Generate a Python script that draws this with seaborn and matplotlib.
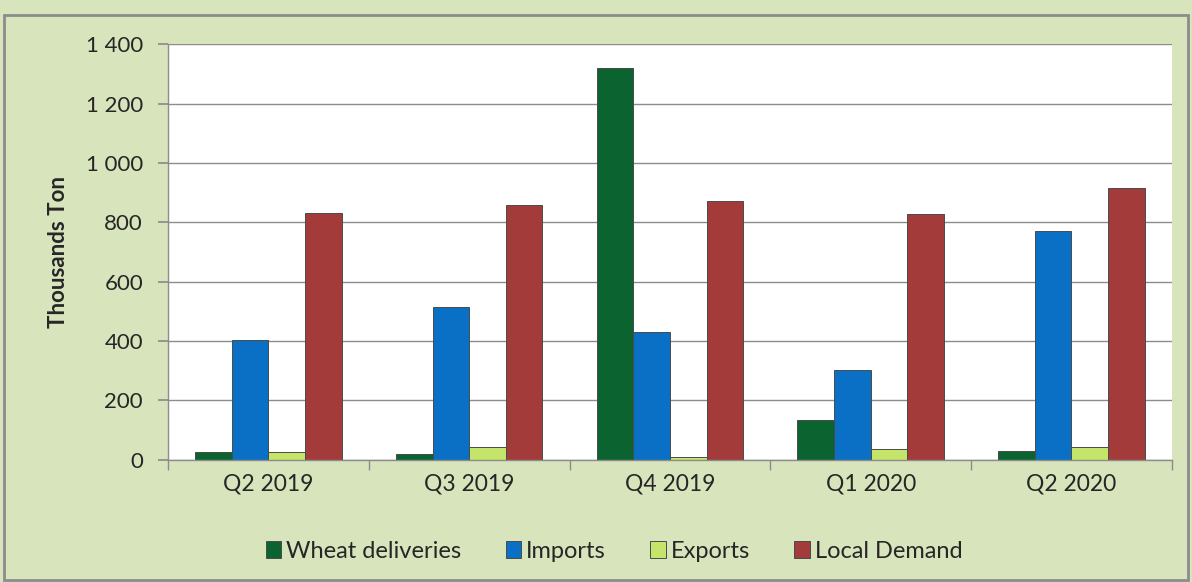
import matplotlib
matplotlib.use("Agg")
import matplotlib.pyplot as plt
import seaborn as sns
import pandas as pd
from matplotlib.ticker import FuncFormatter, FixedLocator
from matplotlib.patches import Rectangle

quarters = ["Q2 2019", "Q3 2019", "Q4 2019", "Q1 2020", "Q2 2020"]
series = ["Wheat deliveries", "Imports", "Exports", "Local Demand"]
wheat = [25, 20, 1320, 135, 30]
imports = [405, 515, 432, 302, 770]
exports = [25, 42, 8, 35, 42]
local_demand = [832, 858, 872, 828, 915]
colors = ["#0B6330", "#0A70C6", "#C4E46A", "#A33B3B"]

rows = []
for name, vals in zip(series, [wheat, imports, exports, local_demand]):
    for q, v in zip(quarters, vals):
        rows.append({"Quarter": q, "Series": name, "Value": v})
df = pd.DataFrame(rows)

sns.set_theme(style="white")
plt.rcParams['font.family'] = ['Lato', 'DejaVu Sans']

bg = "#D8E4BC"
fig = plt.figure(figsize=(11.92, 5.82), dpi=100, facecolor=bg)
fig.patches.append(Rectangle((0.003, 0.003), 0.994, 0.972, transform=fig.transFigure,
                             fill=False, edgecolor="#8C8C8C", linewidth=2))
ax = fig.add_axes([0.141, 0.210, 0.842, 0.714])
ax.set_facecolor("white")

sns.barplot(data=df, x="Quarter", y="Value", hue="Series", order=quarters,
            hue_order=series, palette=colors, saturation=1, width=0.73, gap=0, ax=ax,
            edgecolor="#4A4A4A", linewidth=0.7, legend=True)

ax.set_ylim(0, 1400)
ax.set_xlim(-0.5, len(quarters) - 0.5)
ax.yaxis.set_major_locator(FixedLocator(range(0, 1401, 200)))
ax.yaxis.set_major_formatter(FuncFormatter(lambda v, p: f"{int(v):,}".replace(",", " ")))
ax.grid(axis="y", color="#8C8C8C", linewidth=1)
ax.set_axisbelow(True)
for s in ["top", "right"]:
    ax.spines[s].set_visible(False)
ax.spines["left"].set_color("#8C8C8C")
ax.spines["bottom"].set_color("#8C8C8C")
ax.spines["left"].set_linewidth(1)
ax.spines["bottom"].set_linewidth(1)

ax.tick_params(axis="y", length=7, color="#8C8C8C", labelsize=16, pad=11, left=True)
ax.tick_params(axis="x", length=0, labelsize=16.5, pad=10)
ax.set_xticks(range(len(quarters)))
ax.set_xticklabels(quarters)
ax.set_xticks([i - 0.5 for i in range(len(quarters) + 1)], minor=True)
ax.tick_params(axis="x", which="minor", length=7, color="#8C8C8C", bottom=True)

ax.set_xlabel("")
ax.set_ylabel("Thousands Ton", fontsize=16, fontweight="bold", labelpad=12)

handles, labels = ax.get_legend_handles_labels()
ax.get_legend().remove()
fig.legend(handles, labels, loc="center", bbox_to_anchor=(0.515, 0.053), ncol=4,
           frameon=False, fontsize=17, handlelength=0.65, handleheight=0.75,
           handletextpad=0.2, columnspacing=1.9)

fig.savefig("out.png", dpi=100, facecolor=bg)
